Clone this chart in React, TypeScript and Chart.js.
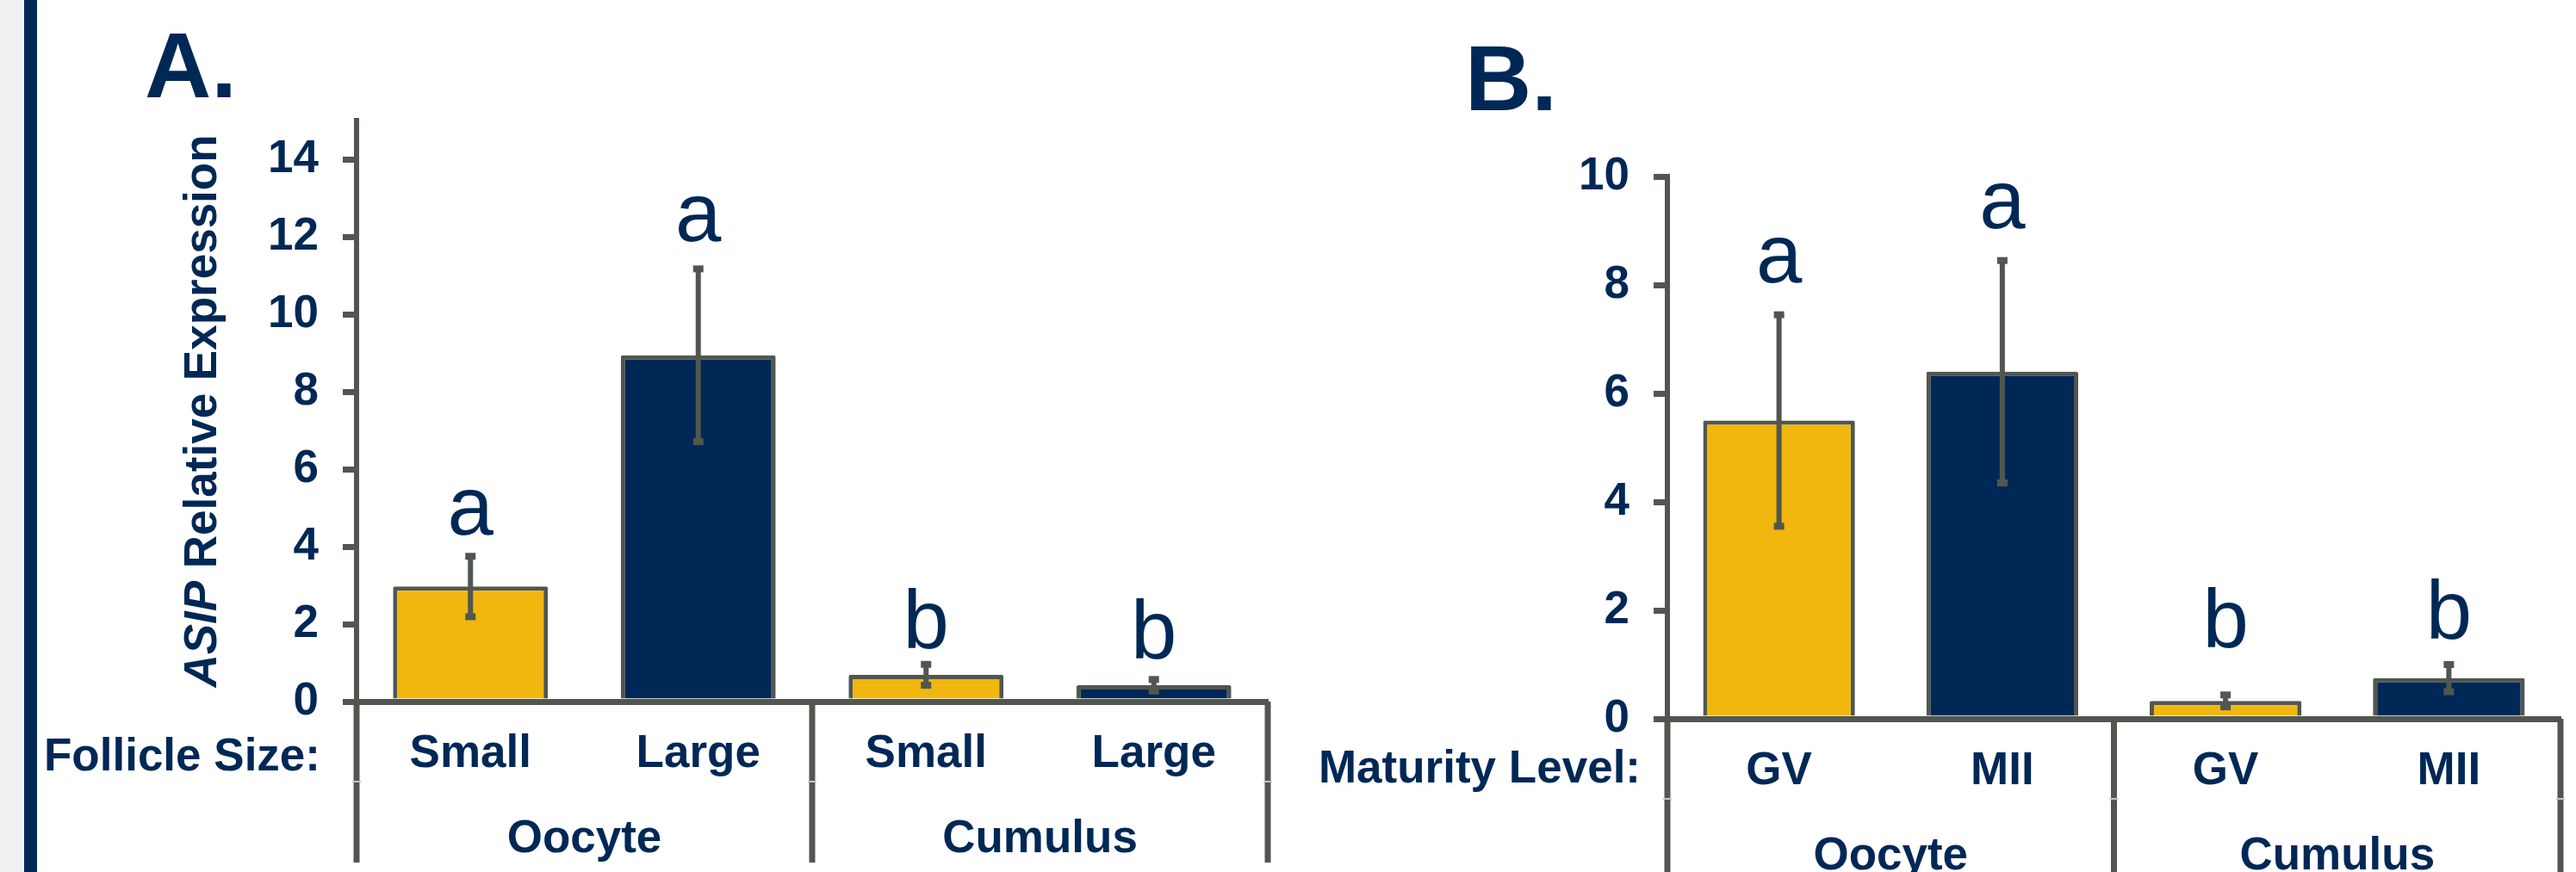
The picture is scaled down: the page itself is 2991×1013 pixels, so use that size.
import React, { useEffect, useRef } from "react";
import { Chart, registerables } from "chart.js";

Chart.register(...registerables);

const NAVY = "#002856";
const GOLD = "#F1B70F";
const GRAY = "#51574F";
const FONT = "'Liberation Sans', Arial, Helvetica, sans-serif";

// ---------- Panel A: follicle size ----------
const categoriesA = ["Small", "Large", "Small", "Large"];
const groupsA = ["Oocyte", "Cumulus"];
const meansA = [2.97, 8.94, 0.69, 0.42];
const errorsA = [0.78, 2.23, 0.27, 0.15];
const lettersA = ["a", "a", "b", "b"];
const letterPosA = [4.31, 11.89, 1.38, 1.11];
const yTicksA = [0, 2, 4, 6, 8, 10, 12, 14];
const yMaxA = 15;

// ---------- Panel B: maturity level ----------
const categoriesB = ["GV", "MII", "GV", "MII"];
const groupsB = ["Oocyte", "Cumulus"];
const meansB = [5.5, 6.4, 0.33, 0.75];
const errorsB = [1.95, 2.05, 0.11, 0.25];
const lettersB = ["a", "a", "b", "b"];
const letterPosB = [8.04, 9.04, 1.31, 1.47];
const yTicksB = [0, 2, 4, 6, 8, 10];
const yMaxB = 10;

const barColors = [GOLD, NAVY, GOLD, NAVY];

type PanelCfg = {
  categories: string[];
  groups: string[];
  means: number[];
  errors: number[];
  letters: string[];
  letterPos: number[];
  yTicks: number[];
  yMax: number;
  width: number;
  left: number;
  top: number;
  padRight: number;
  yAxisWidth: number;
  xAxisHeight: number;
  panelLetter: string;
  panelX: number;
  panelY: number;
  rowLabel: string;
  rowGap: number;
  rowBaseline: number;
  yTitle: boolean;
};

function makePlugin(cfg: PanelCfg) {
  return {
    id: "panelDeco",
    afterDatasetsDraw(chart: any) {
      const ctx = chart.ctx;
      const y = chart.scales.y;
      const x = chart.scales.x;
      ctx.save();
      cfg.means.forEach((m, i) => {
        const e = cfg.errors[i];
        const px = x.getPixelForValue(i);
        const yt = y.getPixelForValue(m + e);
        const yb = y.getPixelForValue(m - e);
        ctx.strokeStyle = GRAY;
        ctx.lineWidth = 6;
        ctx.beginPath();
        ctx.moveTo(px, yt);
        ctx.lineTo(px, yb);
        ctx.stroke();
        ctx.fillStyle = GRAY;
        ctx.fillRect(px - 6, yt - 4, 12, 8);
        ctx.fillRect(px - 6, yb - 4, 12, 8);
        ctx.fillStyle = NAVY;
        ctx.font = `96px ${FONT}`;
        ctx.textAlign = "center";
        ctx.textBaseline = "alphabetic";
        ctx.fillText(cfg.letters[i], px, y.getPixelForValue(cfg.letterPos[i]));
      });
      ctx.restore();
    },
    afterDraw(chart: any) {
      const ctx = chart.ctx;
      const x = chart.scales.x;
      const area = chart.chartArea;
      const base = area.bottom;
      ctx.save();
      // group dividers
      const divs = [
        area.left,
        (x.getPixelForValue(1) + x.getPixelForValue(2)) / 2,
        area.right,
      ];
      ctx.strokeStyle = GRAY;
      ctx.lineWidth = 7;
      divs.forEach((dx) => {
        ctx.beginPath();
        ctx.moveTo(dx, base);
        ctx.lineTo(dx, base + 187);
        ctx.stroke();
      });
      ctx.strokeStyle = "#c4c7c3";
      ctx.lineWidth = 2;
      divs.forEach((dx) => {
        ctx.beginPath();
        ctx.moveTo(dx - 5, base + 93);
        ctx.lineTo(dx + 5, base + 93);
        ctx.stroke();
      });
      // group labels
      ctx.fillStyle = NAVY;
      ctx.font = `bold 53px ${FONT}`;
      ctx.textAlign = "center";
      ctx.textBaseline = "alphabetic";
      cfg.groups.forEach((g, gi) => {
        const cx = (divs[gi] + divs[gi + 1]) / 2;
        ctx.fillText(g, cx, base + 175);
      });
      // row label
      ctx.textAlign = "right";
      ctx.fillText(cfg.rowLabel, area.left - cfg.rowGap, base + cfg.rowBaseline);
      // panel letter
      ctx.textAlign = "left";
      ctx.font = `bold 107px ${FONT}`;
      ctx.fillText(cfg.panelLetter, cfg.panelX, cfg.panelY);
      // y title
      if (cfg.yTitle) {
        const f1 = `italic bold 53px ${FONT}`;
        const f2 = `bold 53px ${FONT}`;
        ctx.translate(251, (area.top + area.bottom) / 2);
        ctx.rotate(-Math.PI / 2);
        ctx.font = f1;
        const w1 = ctx.measureText("ASIP").width;
        ctx.font = f2;
        const t2 = " Relative Expression";
        const w2 = ctx.measureText(t2).width;
        const x0 = -(w1 + w2) / 2;
        ctx.textAlign = "left";
        ctx.font = f1;
        ctx.fillText("ASIP", x0, 0);
        ctx.font = f2;
        ctx.fillText(t2, x0 + w1, 0);
      }
      ctx.restore();
    },
  };
}

const cfgA: PanelCfg = {
  categories: categoriesA,
  groups: groupsA,
  means: meansA,
  errors: errorsA,
  letters: lettersA,
  letterPos: letterPosA,
  yTicks: yTicksA,
  yMax: yMaxA,
  width: 1500,
  left: 0,
  top: 140,
  padRight: 28,
  yAxisWidth: 414,
  xAxisHeight: 198,
  panelLetter: "A.",
  panelX: 168,
  panelY: 113,
  rowLabel: "Follicle Size:",
  rowGap: 42,
  rowBaseline: 80,
  yTitle: true,
};

const cfgB: PanelCfg = {
  categories: categoriesB,
  groups: groupsB,
  means: meansB,
  errors: errorsB,
  letters: lettersB,
  letterPos: letterPosB,
  yTicks: yTicksB,
  yMax: yMaxB,
  width: 1491,
  left: 1500,
  top: 205,
  padRight: 18,
  yAxisWidth: 436,
  xAxisHeight: 178,
  panelLetter: "B.",
  panelX: 201,
  panelY: 128,
  rowLabel: "Maturity Level:",
  rowGap: 31,
  rowBaseline: 74,
  yTitle: false,
};

function Panel({ cfg }: { cfg: PanelCfg }) {
  const ref = useRef<HTMLCanvasElement | null>(null);
  useEffect(() => {
    if (!ref.current) return;
    const chart = new Chart(ref.current, {
      type: "bar",
      data: {
        labels: cfg.categories,
        datasets: [
          {
            data: cfg.means,
            backgroundColor: barColors,
            borderColor: GRAY,
            borderWidth: 5,
            borderRadius: 2,
            borderSkipped: "start",
            barPercentage: 0.68,
            categoryPercentage: 1,
          },
        ],
      },
      options: {
        animation: false,
        responsive: false,
        devicePixelRatio: 1,
        layout: { padding: { left: 0, right: cfg.padRight, top: cfg.top, bottom: 0 } },
        plugins: { legend: { display: false }, tooltip: { enabled: false } },
        scales: {
          x: {
            type: "category",
            grid: { display: false, drawTicks: false },
            border: { display: true, color: GRAY, width: 7, z: 1 },
            ticks: {
              color: NAVY,
              font: { family: FONT, size: 53, weight: "bold", lineHeight: 1.2 },
              padding: 30,
              maxRotation: 0,
              minRotation: 0,
              autoSkip: false,
            },
            afterFit: (s: any) => {
              s.height = cfg.xAxisHeight;
            },
          },
          y: {
            min: 0,
            max: cfg.yMax,
            grid: {
              display: true,
              drawOnChartArea: false,
              drawTicks: true,
              tickLength: 16,
              lineWidth: 7,
              color: GRAY,
            },
            border: { display: true, color: GRAY, width: 6 },
            ticks: {
              color: NAVY,
              font: { family: FONT, size: 53, weight: "bold" },
              padding: 28,
            },
            afterBuildTicks: (s: any) => {
              s.ticks = cfg.yTicks.map((v) => ({ value: v }));
            },
            afterFit: (s: any) => {
              s.width = cfg.yAxisWidth;
            },
          },
        },
      } as any,
      plugins: [makePlugin(cfg) as any],
    });
    return () => chart.destroy();
  }, []);
  return (
    <canvas
      ref={ref}
      width={cfg.width}
      height={1013}
      style={{ position: "absolute", left: cfg.left, top: 0, width: cfg.width, height: 1013 }}
    />
  );
}

export default function App() {
  return (
    <div
      style={{
        position: "fixed",
        left: 0,
        top: 0,
        width: 2991,
        height: 1013,
        background: "#ffffff",
        overflow: "hidden",
      }}
    >
      <Panel cfg={cfgA} />
      <Panel cfg={cfgB} />
      <div style={{ position: "absolute", left: 0, top: 0, width: 28, height: 1013, background: "#f0f0f0" }} />
      <div style={{ position: "absolute", left: 28, top: 0, width: 15, height: 1013, background: NAVY }} />
    </div>
  );
}
